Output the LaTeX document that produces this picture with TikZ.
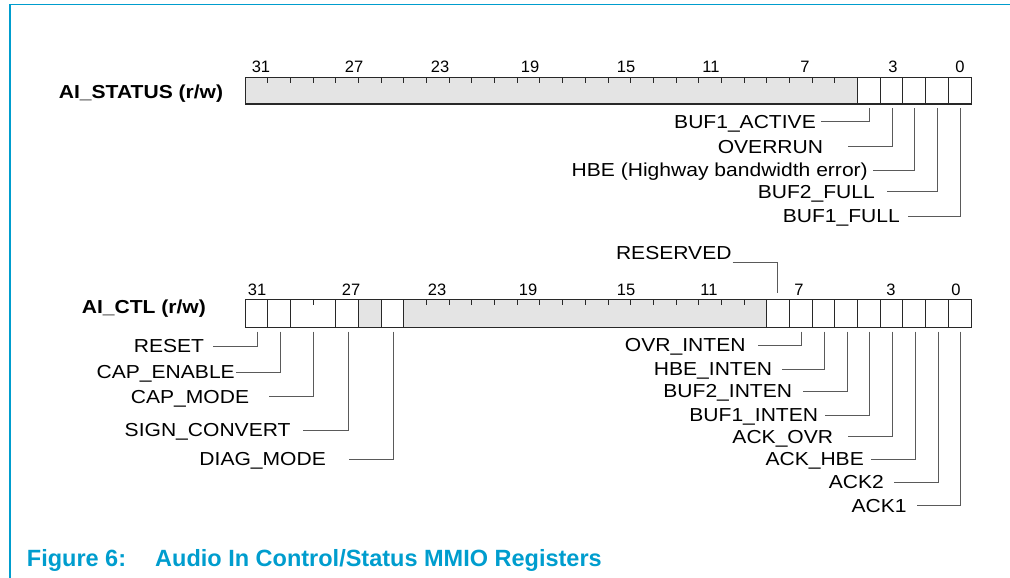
\documentclass[tikz,border=0pt]{standalone}
\usepackage{fontspec}
\setmainfont{Liberation Sans}
\newfontfamily\lblfont[FakeStretch=1.12]{Liberation Sans}
\newfontfamily\numfont{Liberation Sans}
\definecolor{figblue}{RGB}{0,157,206}
\definecolor{regfill}{RGB}{228,228,228}
\definecolor{leadgray}{RGB}{90,90,90}
\definecolor{boxline}{RGB}{40,40,40}
\tikzset{
 lbl/.style={inner sep=0, anchor=base east, font=\lblfont\fontsize{18.8}{20}\selectfont, text=black},
 ttl/.style={inner sep=0, anchor=base east, font=\lblfont\bfseries\fontsize{18.8}{20}\selectfont, text=black},
 bitnum/.style={inner sep=0, anchor=base, font=\numfont\fontsize{16.5}{18}\selectfont, text=black},
 leader/.style={draw=leadgray, line width=1pt},
 regbox/.style={draw=boxline, line width=1pt},
 cellline/.style={draw=boxline, line width=0.9pt},
 tickline/.style={draw=boxline, line width=0.9pt},
 frameline/.style={draw=figblue},
}
% #1 name, #2 bit x, #3 start y, #4 line y, #5 line left x, #6 text right x, #7 text
\newcommand\leadline[7]{%
  \coordinate (#1b) at (#2,#3);
  \coordinate (#1e) at (#5,#4);
  \node[lbl] (#1) at (#6,#4+6.6) {#7};
  \draw[leader] (#1b) |- (#1e);
}
\begin{document}
\begin{tikzpicture}[x=1pt,y=-1pt]
\useasboundingbox (0,0) rectangle (1010,578);
\def\w{22.6875}
% frame
\draw[frameline, line width=1.4pt] (10,4.5) -- (1010,4.5);
\draw[frameline, line width=1.1pt] (10,4.5) -- (10,578);

% ---------- AI_STATUS ----------
\node[ttl] (sttitle) at (223.3,98.3) {AI\_STATUS (r/w)};
\fill[regfill] (245,78) rectangle ({245+27*\w},104);
\foreach \k in {27,...,31} \draw[cellline] ({245+\k*\w},78) -- ({245+\k*\w},104);
\foreach \k in {1,...,26} \draw[tickline] ({245+\k*\w},78) -- ({245+\k*\w},83);
\draw[regbox] (245,78) rectangle (971,104);
\foreach \t/\x [count=\i] in {31/261,27/354,23/440,19/530,15/626,11/711,7/805,3/893,0/960}
  \node[bitnum] (sn\i) at (\x,72.7) {\t};

\leadline{sa}{869.3}{108}{121.7}{821}{816}{BUF1\_ACTIVE}
\leadline{sb}{892}{108}{146.7}{848}{823.3}{OVERRUN}
\leadline{sc}{914.7}{108}{170}{873}{868}{HBE (Highway bandwidth error)}
\leadline{sd}{937.4}{108}{191.7}{886.7}{875}{BUF2\_FULL}
\leadline{se}{960}{108}{216}{908}{900}{BUF1\_FULL}

% ---------- AI_CTL ----------
\node[ttl] (ctltitle) at (206,313.3) {AI\_CTL (r/w)};
\fill[regfill] ({245+5*\w},299.5) rectangle ({245+6*\w},327);
\fill[regfill] ({245+7*\w},299.5) rectangle ({245+23*\w},327);
\foreach \k in {1,2,4,5,6,7,23,24,25,26,27,28,29,30,31} \draw[cellline] ({245+\k*\w},299.5) -- ({245+\k*\w},327);
\foreach \k in {3,8,9,...,22} \draw[tickline] ({245+\k*\w},299.5) -- ({245+\k*\w},304.5);
\draw[regbox] (245,299.5) rectangle (971,327);
\foreach \t/\x [count=\i] in {31/257,27/351,23/437,19/528,15/626,11/709,7/799,3/891,0/956}
  \node[bitnum] (cn\i) at (\x,295) {\t};

% RESERVED
\node[lbl] (resv) at (731.7,259.8) {RESERVED};
\coordinate (resvb) at (777.5,293.3);
\coordinate (resve) at (732.7,262.7);
\draw[leader] (resve) -| (resvb);

% left leaders
\leadline{ca}{257.5}{331.7}{346}{213.3}{204.3}{RESET}
\leadline{cb}{280}{331.7}{372.3}{236}{235}{CAP\_ENABLE}
\leadline{cc}{313.6}{331.7}{396.7}{269.3}{249.3}{CAP\_MODE}
\leadline{cd}{348}{331.7}{430}{303.3}{290.7}{SIGN\_CONVERT}
\leadline{ce}{393}{331.7}{459.3}{349.3}{326}{DIAG\_MODE}

% right leaders
\leadline{cf}{801.5}{331.7}{345}{758.3}{745.7}{OVR\_INTEN}
\leadline{cg}{824.5}{331.7}{369.3}{781.7}{772.3}{HBE\_INTEN}
\leadline{ch}{847}{331.7}{391}{802.7}{792.3}{BUF2\_INTEN}
\leadline{ci}{869.7}{331.7}{415}{825}{818.3}{BUF1\_INTEN}
\leadline{cj}{892.4}{331.7}{436.7}{848.3}{833.3}{ACK\_OVR}
\leadline{ck}{915}{331.7}{459.3}{871}{864}{ACK\_HBE}
\leadline{cl}{938}{331.7}{482.3}{894.3}{884}{ACK2}
\leadline{cm}{960}{331.7}{505.7}{916.7}{906.7}{ACK1}

% caption
\node[inner sep=0, anchor=base west, text=figblue, font=\bfseries\fontsize{23.5}{26}\selectfont] (caption) at (26.7,566.7) {\makebox[128.3pt][l]{Figure 6:}Audio In Control/Status MMIO Registers};
\end{tikzpicture}
\end{document}
